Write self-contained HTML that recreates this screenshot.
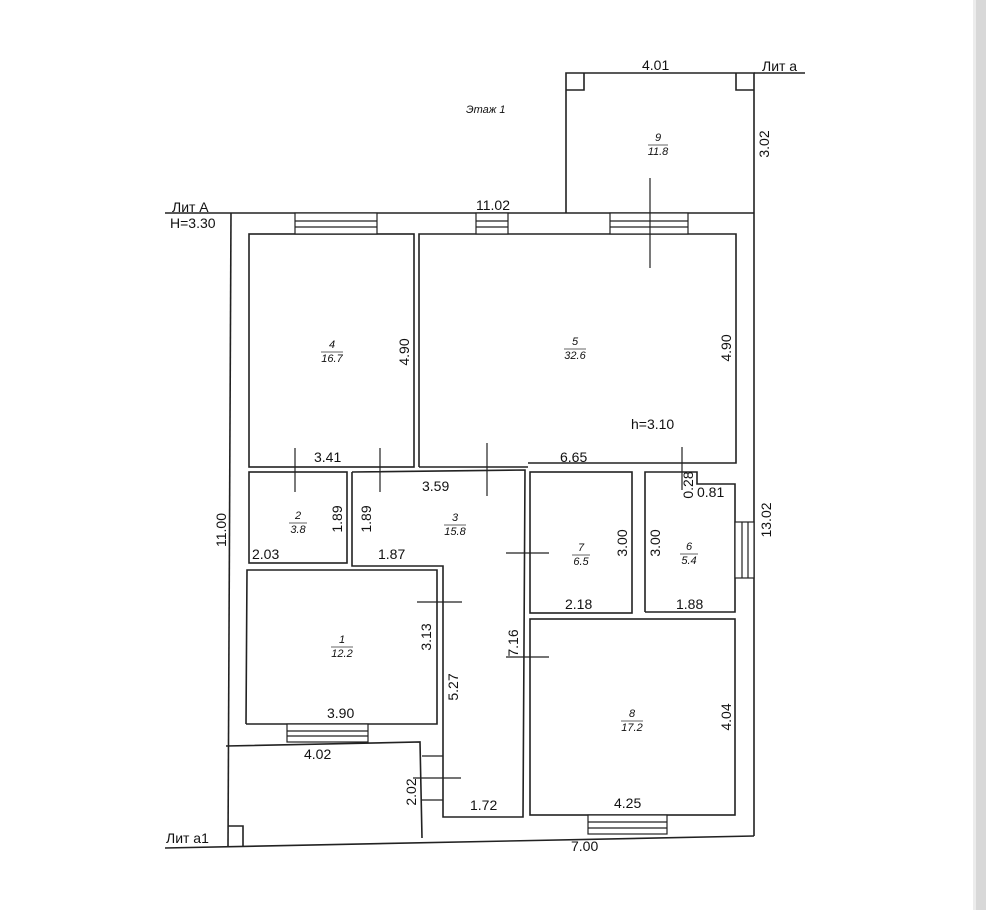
<!DOCTYPE html>
<html><head><meta charset="utf-8"><style>
html,body{margin:0;padding:0;background:#fff;}
svg{display:block;}
text{font-family:"Liberation Sans",sans-serif;fill:#111;}
.d{font-size:14px;}
.r{font-size:11px;font-style:italic;}
</style></head><body>
<svg width="986" height="910" viewBox="0 0 986 910" xmlns="http://www.w3.org/2000/svg">
<rect x="976" y="0" width="10" height="910" fill="#d8d8d8"/>
<rect x="973" y="0" width="3" height="910" fill="#ececec"/>
<g stroke="#222" stroke-width="1.6" fill="none">
<polyline points="165,213 754,213"/>
<polyline points="231,213 228,846"/>
<polyline points="754,213 754,836"/>
<polyline points="165,848 754,836"/>
<polyline points="566,213 566,73 754,73 754,213"/>
<polyline points="754,73 805,73"/>
<polyline points="566,90 584,90 584,73"/>
<polyline points="736,73 736,90 754,90"/>
<rect x="249" y="234" width="165" height="233"/>
<polyline points="419,467 419,234 736,234 736,463 528,463"/>
<polyline points="419,467 528,467"/>
<rect x="249" y="472" width="98" height="91"/>
<polyline points="352,472 525,470 523,817 443,817 443,566 352,566 352,472"/>
<rect x="530" y="472" width="102" height="141"/>
<polyline points="645,612 645,472 697,472 697,484 735,484 735,612 645,612"/>
<rect x="530" y="619" width="205" height="196"/>
<polyline points="246,724 247,570 437,570 437,724 246,724"/>
<polyline points="226,746 420,742 422,838"/>
<polyline points="228,826 243,826 243,846"/>
</g>
<g stroke="#222" stroke-width="1.2" fill="#fff">
<rect x="295" y="213" width="82" height="21"/><line x1="295" y1="221" x2="377" y2="221"/><line x1="295" y1="227" x2="377" y2="227"/>
<rect x="476" y="213" width="32" height="21"/><line x1="476" y1="221" x2="508" y2="221"/><line x1="476" y1="227" x2="508" y2="227"/>
<rect x="610" y="213" width="78" height="21"/><line x1="610" y1="221" x2="688" y2="221"/><line x1="610" y1="227" x2="688" y2="227"/>
<rect x="735" y="522" width="19" height="56"/><line x1="742" y1="522" x2="742" y2="578"/><line x1="748" y1="522" x2="748" y2="578"/>
<rect x="287" y="724" width="81" height="18"/><line x1="287" y1="731" x2="368" y2="731"/><line x1="287" y1="736" x2="368" y2="736"/>
<rect x="588" y="815" width="79" height="19"/><line x1="588" y1="822" x2="667" y2="822"/><line x1="588" y1="828" x2="667" y2="828"/>
</g>
<g stroke="#222" stroke-width="1.2">
<line x1="650" y1="178" x2="650" y2="268"/>
<line x1="295" y1="448" x2="295" y2="492"/>
<line x1="380" y1="448" x2="380" y2="492"/>
<line x1="487" y1="443" x2="487" y2="496"/>
<line x1="506" y1="553" x2="549" y2="553"/>
<line x1="417" y1="602" x2="462" y2="602"/>
<line x1="506" y1="657" x2="549" y2="657"/>
<line x1="413" y1="778" x2="461" y2="778"/>
<line x1="682" y1="447" x2="682" y2="490"/>
<line x1="422" y1="756" x2="443" y2="756"/><line x1="422" y1="800" x2="443" y2="800"/>
</g>
<text x="466" y="113" class="r" font-size="12">Этаж 1</text>
<text x="172" y="212" class="d">Лит А</text>
<text x="170" y="228" class="d">H=3.30</text>
<text x="476" y="210" class="d">11.02</text>
<text x="642" y="70" class="d">4.01</text>
<text x="762" y="71" class="d">Лит а</text>
<text x="166" y="843" class="d">Лит а1</text>
<text x="571" y="851" class="d">7.00</text>
<text x="631" y="429" class="d">h=3.10</text>
<text x="314" y="462" class="d">3.41</text>
<text x="560" y="462" class="d">6.65</text>
<text x="422" y="491" class="d">3.59</text>
<text x="697" y="497" class="d">0.81</text>
<text x="252" y="559" class="d">2.03</text>
<text x="378" y="559" class="d">1.87</text>
<text x="565" y="609" class="d">2.18</text>
<text x="676" y="609" class="d">1.88</text>
<text x="327" y="718" class="d">3.90</text>
<text x="304" y="759" class="d">4.02</text>
<text x="470" y="810" class="d">1.72</text>
<text x="614" y="808" class="d">4.25</text>
<g class="d">
<text transform="translate(409,352) rotate(-90)" text-anchor="middle">4.90</text>
<text transform="translate(731,348) rotate(-90)" text-anchor="middle">4.90</text>
<text transform="translate(226,530) rotate(-90)" text-anchor="middle">11.00</text>
<text transform="translate(342,519) rotate(-90)" text-anchor="middle">1.89</text>
<text transform="translate(371,519) rotate(-90)" text-anchor="middle">1.89</text>
<text transform="translate(627,543) rotate(-90)" text-anchor="middle">3.00</text>
<text transform="translate(660,543) rotate(-90)" text-anchor="middle">3.00</text>
<text transform="translate(693,485) rotate(-90)" text-anchor="middle">0.28</text>
<text transform="translate(771,520) rotate(-90)" text-anchor="middle">13.02</text>
<text transform="translate(769,144) rotate(-90)" text-anchor="middle">3.02</text>
<text transform="translate(431,637) rotate(-90)" text-anchor="middle">3.13</text>
<text transform="translate(458,687) rotate(-90)" text-anchor="middle">5.27</text>
<text transform="translate(518,643) rotate(-90)" text-anchor="middle">7.16</text>
<text transform="translate(416,792) rotate(-90)" text-anchor="middle">2.02</text>
<text transform="translate(731,717) rotate(-90)" text-anchor="middle">4.04</text>
</g>
<g class="r" text-anchor="middle" stroke="none">
<text x="658" y="141">9</text><text x="658" y="155">11.8</text>
<text x="332" y="348">4</text><text x="332" y="362">16.7</text>
<text x="575" y="345">5</text><text x="575" y="359">32.6</text>
<text x="298" y="519">2</text><text x="298" y="533">3.8</text>
<text x="455" y="521">3</text><text x="455" y="535">15.8</text>
<text x="581" y="551">7</text><text x="581" y="565">6.5</text>
<text x="689" y="550">6</text><text x="689" y="564">5.4</text>
<text x="342" y="643">1</text><text x="342" y="657">12.2</text>
<text x="632" y="717">8</text><text x="632" y="731">17.2</text>
</g>
<g stroke="#333" stroke-width="0.8">
<line x1="648" y1="145" x2="668" y2="145"/>
<line x1="321" y1="352" x2="343" y2="352"/>
<line x1="564" y1="349" x2="586" y2="349"/>
<line x1="289" y1="523" x2="307" y2="523"/>
<line x1="444" y1="525" x2="466" y2="525"/>
<line x1="572" y1="555" x2="590" y2="555"/>
<line x1="680" y1="554" x2="698" y2="554"/>
<line x1="331" y1="647" x2="353" y2="647"/>
<line x1="621" y1="721" x2="643" y2="721"/>
</g>
</svg>
</body></html>
